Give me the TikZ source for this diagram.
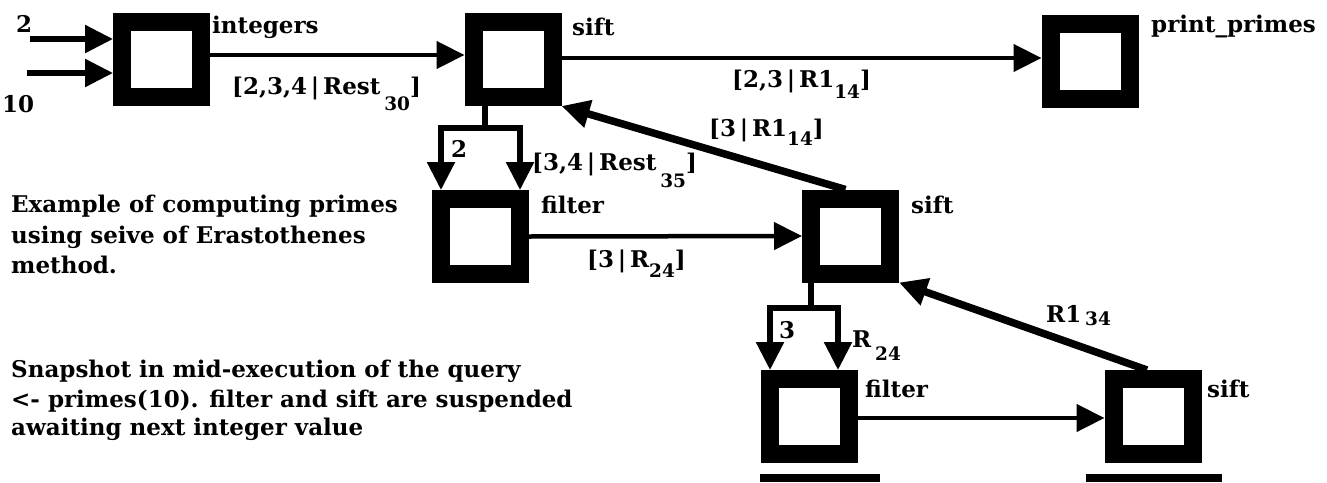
\documentclass[tikz,border=0pt]{standalone}
\usepackage{fontspec}
\setmainfont{DejaVu Serif}
\usetikzlibrary{arrows.meta}
\newcommand\lowsub[2]{\raisebox{-#1pt}{\fontsize{18.5}{18.5}\selectfont #2}}
\begin{document}
\begin{tikzpicture}[x=1pt,y=-1pt,
  proc/.style={draw=black,fill=white,line width=18pt,minimum width=79pt,minimum height=75pt,inner sep=0pt},
  lbl/.style={anchor=base west,inner sep=0pt,font=\bfseries\fontsize{23}{23}\selectfont},
  tip/.style={-{Triangle[length=28pt,width=27pt]}},
  arr/.style={tip,line width=4.5pt},
  inarr/.style={tip,line width=5.5pt},
  varr/.style={tip,line width=5.5pt},
  vline/.style={line width=5.5pt},
  back/.style={tip,line width=7.5pt}]
\useasboundingbox (0,0) rectangle (1327,482);
% boxes
\node[proc] (int)    at (161.5,59) {};
\node[proc] (sift1)  at (513,59.5) {};
\node[proc] (print)  at (1090,61) {};
\node[proc] (filt1)  at (480.5,236.5) {};
\node[proc] (sift2)  at (850.5,236) {};
\node[proc] (filt2)  at (809,416.5) {};
\node[proc] (sift3)  at (1153,416.5) {};
% truncated boxes at the bottom
\fill (760,474) rectangle (880,482);
\fill (1086,474) rectangle (1222,482);
% inputs
\coordinate (i2) at (30,39);
\coordinate (i10) at (27,73);
\draw[inarr] (i2) -- (i2 -| int.west);
\draw[inarr] (i10) -- (i10 -| int.west);
% main flow
\coordinate (m1) at (0,55);
\draw[arr] (m1 -| int.east) -- (m1 -| sift1.west);
\coordinate (m2) at (0,58);
\draw[arr] (m2 -| sift1.east) -- (m2 -| print.west);
% sift1 -> filter1 split
\coordinate (b1) at (485,128);
\coordinate (f1l) at (441,128);
\coordinate (f1r) at (520,128);
\draw[vline] (b1 |- sift1.south) -- (b1);
\draw[vline,line cap=rect] (f1l) -- (f1r);
\draw[varr] (f1l) -- (f1l |- filt1.north);
\draw[varr] (f1r) -- (f1r |- filt1.north);
% filter1 -> sift2
\draw[arr] (filt1.east) -- (sift2.west);
% sift2 -> sift1 feedback
\draw[back] ([xshift=-5pt]sift2.north) -- (sift1.south east);
% sift2 -> filter2 split
\coordinate (b2) at (811,308);
\coordinate (f2l) at (770,308);
\coordinate (f2r) at (838,308);
\draw[vline] (b2 |- sift2.south) -- (b2);
\draw[vline,line cap=rect] (f2l) -- (f2r);
\draw[varr] (f2l) -- (f2l |- filt2.north);
\draw[varr] (f2r) -- (f2r |- filt2.north);
% filter2 -> sift3
\coordinate (m3) at (0,418);
\draw[arr] (m3 -| filt2.east) -- (m3 -| sift3.west);
% sift3 -> sift2 feedback
\draw[back] ([xshift=-6pt]sift3.north) -- (sift2.south east);
% labels
\node[lbl] (l2) at (16,32) {2};
\node[lbl] (l10) at (2,112) {10};
\node[lbl] (lint) at (212,33) {integers};
\node[lbl] (ls1) at (232,94) {[2,3,4\,|\,Rest\,\lowsub{16}{30}]};
\node[lbl] (lsift1) at (572,35) {sift};
\node[lbl] (lprint) at (1151,32) {print\_primes};
\node[lbl] (ls2) at (732,87) {[2,3\,|\,R1\lowsub{11}{14}]};
\node[lbl] (ltwo) at (451,157) {2};
\node[lbl] (ls3) at (532,170) {[3,4\,|\,Rest\,\lowsub{17}{35}]};
\node[lbl] (lfilt1) at (541,213) {filter};
\node[lbl] (ls4) at (587,267) {[3\,|\,R\lowsub{10}{24}]};
\node[lbl] (ls5) at (709,136) {[3\,|\,R1\lowsub{9}{14}]};
\node[lbl] (lsift2) at (911,213) {sift};
\node[lbl] (lthree) at (779,338) {3};
\node[lbl] (ls6) at (852,347) {R\,\lowsub{13}{24}};
\node[lbl] (lfilt2) at (865,397) {filter};
\node[lbl] (ls7) at (1046,322) {R1\,\lowsub{3}{34}};
\node[lbl] (lsift3) at (1207,397) {sift};
% description text
\node[lbl] (t1) at (11,212) {Example of computing primes};
\node[lbl] (t2) at (11,243) {using seive of Erastothenes};
\node[lbl] (t3) at (11,273) {method.};
\node[lbl] (t4) at (11,377) {Snapshot in mid-execution of the query};
\node[lbl] (t5) at (11,407) {<- primes(10). filter and sift are suspended};
\node[lbl] (t6) at (11,435) {awaiting next integer value};
\end{tikzpicture}
\end{document}
